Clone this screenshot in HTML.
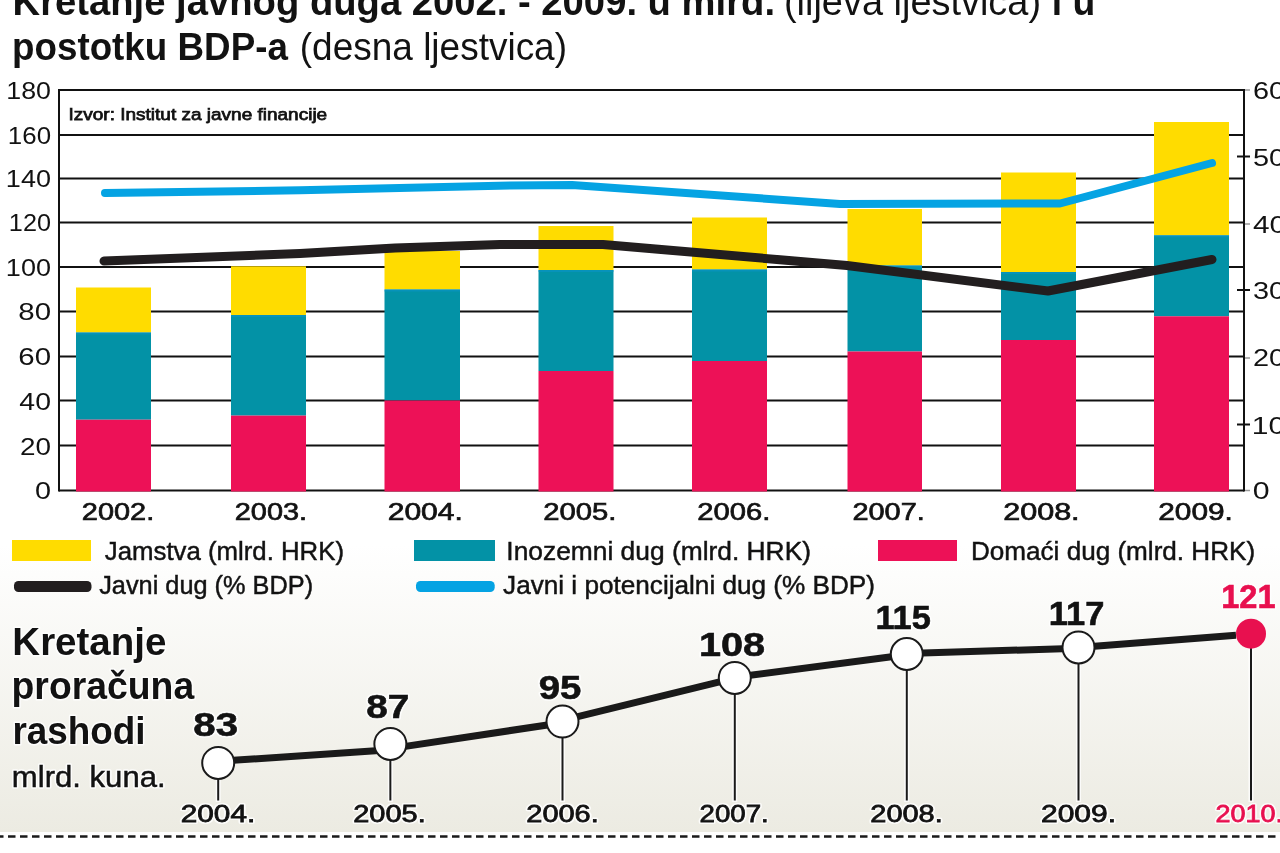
<!DOCTYPE html>
<html><head><meta charset="utf-8">
<style>
html,body{margin:0;padding:0;background:#fff;}
body{width:1280px;height:853px;overflow:hidden;position:relative;font-family:"Liberation Sans",sans-serif;}
svg{position:absolute;left:0;top:0;display:block;will-change:transform;}
text{font-family:"Liberation Sans",sans-serif;}
</style></head><body>
<svg width="1280" height="853" viewBox="0 0 1280 853">
<defs>
<linearGradient id="bg" x1="0" y1="0" x2="0" y2="1">
<stop offset="0" stop-color="#ffffff"/>
<stop offset="1" stop-color="#ecebe2"/>
</linearGradient>
</defs>
<rect x="0" y="545" width="1280" height="287" fill="url(#bg)"/>

<text x="12.58" y="15" font-size="38.5" font-weight="bold" fill="#121212" textLength="762.43" lengthAdjust="spacingAndGlyphs">Kretanje javnog duga 2002. - 2009. u mlrd.</text>
<text x="783.97" y="15" font-size="38.5" fill="#121212" textLength="257.06" lengthAdjust="spacingAndGlyphs">(lijeva ljestvica)</text>
<text x="1051.73" y="15" font-size="38.5" font-weight="bold" fill="#121212" textLength="43.52" lengthAdjust="spacingAndGlyphs">i u</text>
<text x="11.99" y="59.6" font-size="38.5" font-weight="bold" fill="#121212" textLength="275.91" lengthAdjust="spacingAndGlyphs">postotku BDP-a</text>
<text x="299.76" y="59.6" font-size="38.5" fill="#121212" textLength="267.27" lengthAdjust="spacingAndGlyphs">(desna ljestvica)</text>
<g stroke="#111" stroke-width="2">
<line x1="59" y1="90" x2="1244" y2="90"/>
<line x1="59" y1="135" x2="1244" y2="135"/>
<line x1="59" y1="178.5" x2="1244" y2="178.5"/>
<line x1="59" y1="222.5" x2="1244" y2="222.5"/>
<line x1="59" y1="267" x2="1244" y2="267"/>
<line x1="59" y1="311.5" x2="1244" y2="311.5"/>
<line x1="59" y1="356.5" x2="1244" y2="356.5"/>
<line x1="59" y1="400.5" x2="1244" y2="400.5"/>
<line x1="59" y1="445.5" x2="1244" y2="445.5"/>
<line x1="59" y1="490.5" x2="1244" y2="490.5"/>
<line x1="59" y1="89" x2="59" y2="491.5"/>
<line x1="1244" y1="89" x2="1244" y2="491.5"/>
<line x1="1237" y1="156.5" x2="1250" y2="156.5"/>
<line x1="1237" y1="290" x2="1250" y2="290"/>
<line x1="1237" y1="424.5" x2="1250" y2="424.5"/>
</g>
<g stroke="#999" stroke-width="1.5">
<line x1="1245" y1="90" x2="1250" y2="90"/>
<line x1="1245" y1="224" x2="1250" y2="224"/>
<line x1="1245" y1="358" x2="1250" y2="358"/>
<line x1="1245" y1="490.5" x2="1250" y2="490.5"/>
</g>
<rect x="76" y="287.5" width="75" height="45.0" fill="#ffdc00"/>
<rect x="76" y="332.5" width="75" height="87.19999999999999" fill="#0392a6"/>
<rect x="76" y="419.7" width="75" height="71.80000000000001" fill="#ed1157"/>
<rect x="76" y="332.5" width="75" height="2" fill="#0a95c8" opacity="0.6"/>
<rect x="231" y="266.3" width="75" height="48.69999999999999" fill="#ffdc00"/>
<rect x="231" y="315" width="75" height="100.60000000000002" fill="#0392a6"/>
<rect x="231" y="415.6" width="75" height="75.89999999999998" fill="#ed1157"/>
<rect x="231" y="315" width="75" height="2" fill="#0a95c8" opacity="0.6"/>
<rect x="384.5" y="251" width="75.5" height="38.5" fill="#ffdc00"/>
<rect x="384.5" y="289.5" width="75.5" height="111.0" fill="#0392a6"/>
<rect x="384.5" y="400.5" width="75.5" height="91.0" fill="#ed1157"/>
<rect x="384.5" y="289.5" width="75.5" height="2" fill="#0a95c8" opacity="0.6"/>
<rect x="538.5" y="226" width="75" height="44" fill="#ffdc00"/>
<rect x="538.5" y="270" width="75" height="101" fill="#0392a6"/>
<rect x="538.5" y="371" width="75" height="120.5" fill="#ed1157"/>
<rect x="538.5" y="270" width="75" height="2" fill="#0a95c8" opacity="0.6"/>
<rect x="692" y="217.5" width="75" height="52.0" fill="#ffdc00"/>
<rect x="692" y="269.5" width="75" height="91.5" fill="#0392a6"/>
<rect x="692" y="361" width="75" height="130.5" fill="#ed1157"/>
<rect x="692" y="269.5" width="75" height="2" fill="#0a95c8" opacity="0.6"/>
<rect x="847.5" y="209" width="74.5" height="56.5" fill="#ffdc00"/>
<rect x="847.5" y="265.5" width="74.5" height="86.0" fill="#0392a6"/>
<rect x="847.5" y="351.5" width="74.5" height="140.0" fill="#ed1157"/>
<rect x="847.5" y="265.5" width="74.5" height="2" fill="#0a95c8" opacity="0.6"/>
<rect x="1001" y="172.5" width="75" height="99.5" fill="#ffdc00"/>
<rect x="1001" y="272" width="75" height="68" fill="#0392a6"/>
<rect x="1001" y="340" width="75" height="151.5" fill="#ed1157"/>
<rect x="1001" y="272" width="75" height="2" fill="#0a95c8" opacity="0.6"/>
<rect x="1154" y="122" width="75" height="113.30000000000001" fill="#ffdc00"/>
<rect x="1154" y="235.3" width="75" height="81.0" fill="#0392a6"/>
<rect x="1154" y="316.3" width="75" height="175.2" fill="#ed1157"/>
<rect x="1154" y="235.3" width="75" height="2" fill="#0a95c8" opacity="0.6"/>
<polyline fill="none" stroke="#05a3e3" stroke-width="8" stroke-linecap="round" stroke-linejoin="round" points="105,193 300,190.3 510,185.5 572,185 840,204 1060,203.5 1212,163"/>
<polyline fill="none" stroke="#221e1f" stroke-width="9" stroke-linecap="round" stroke-linejoin="round" points="104,261 300,253.5 395,248 500,244.5 603,244.5 847,265.5 1048,291 1212,259.5"/>
<text x="68.48" y="120.2" font-size="16.8" fill="#121212" stroke="#121212" stroke-width="0.75" textLength="258.72" lengthAdjust="spacingAndGlyphs">Izvor: Institut za javne financije</text>
<text x="6.35" y="99" font-size="23.5" fill="#121212" textLength="44.68" lengthAdjust="spacingAndGlyphs">180</text>
<text x="7.86" y="143.5" font-size="23.5" fill="#121212" textLength="43.17" lengthAdjust="spacingAndGlyphs">160</text>
<text x="5.87" y="187" font-size="23.5" fill="#121212" textLength="45.08" lengthAdjust="spacingAndGlyphs">140</text>
<text x="8.86" y="231" font-size="23.5" fill="#121212" textLength="42.09" lengthAdjust="spacingAndGlyphs">120</text>
<text x="5.87" y="275.5" font-size="23.5" fill="#121212" textLength="45.08" lengthAdjust="spacingAndGlyphs">100</text>
<text x="18.31" y="320" font-size="23.5" fill="#121212" textLength="32.73" lengthAdjust="spacingAndGlyphs">80</text>
<text x="18.30" y="365" font-size="23.5" fill="#121212" textLength="32.73" lengthAdjust="spacingAndGlyphs">60</text>
<text x="19.38" y="409.5" font-size="23.5" fill="#121212" textLength="31.60" lengthAdjust="spacingAndGlyphs">40</text>
<text x="20.04" y="454.5" font-size="23.5" fill="#121212" textLength="31.00" lengthAdjust="spacingAndGlyphs">20</text>
<text x="35.12" y="499" font-size="23.5" fill="#121212" textLength="16.04" lengthAdjust="spacingAndGlyphs">0</text>
<text x="1252.93" y="99" font-size="23.5" fill="#121212" textLength="32.14" lengthAdjust="spacingAndGlyphs">60</text>
<text x="1252.93" y="165.5" font-size="23.5" fill="#121212" textLength="32.14" lengthAdjust="spacingAndGlyphs">50</text>
<text x="1252.93" y="232.5" font-size="23.5" fill="#121212" textLength="33.14" lengthAdjust="spacingAndGlyphs">40</text>
<text x="1252.93" y="298.5" font-size="23.5" fill="#121212" textLength="32.14" lengthAdjust="spacingAndGlyphs">30</text>
<text x="1252.93" y="365.5" font-size="23.5" fill="#121212" textLength="32.14" lengthAdjust="spacingAndGlyphs">20</text>
<text x="1251.78" y="433.5" font-size="23.5" fill="#121212" textLength="33.33" lengthAdjust="spacingAndGlyphs">10</text>
<text x="1252.84" y="499" font-size="23.5" fill="#121212" textLength="16.85" lengthAdjust="spacingAndGlyphs">0</text>
<text x="81.84" y="520.3" font-size="24.5" fill="#121212" stroke="#121212" stroke-width="0.7" textLength="72.37" lengthAdjust="spacingAndGlyphs">2002.</text>
<text x="234.76" y="520.3" font-size="24.5" fill="#121212" stroke="#121212" stroke-width="0.7" textLength="72.32" lengthAdjust="spacingAndGlyphs">2003.</text>
<text x="387.68" y="520.3" font-size="24.5" fill="#121212" stroke="#121212" stroke-width="0.7" textLength="75.22" lengthAdjust="spacingAndGlyphs">2004.</text>
<text x="543.16" y="520.3" font-size="24.5" fill="#121212" stroke="#121212" stroke-width="0.7" textLength="73.16" lengthAdjust="spacingAndGlyphs">2005.</text>
<text x="697.34" y="520.3" font-size="24.5" fill="#121212" stroke="#121212" stroke-width="0.7" textLength="73.05" lengthAdjust="spacingAndGlyphs">2006.</text>
<text x="852.45" y="520.3" font-size="24.5" fill="#121212" stroke="#121212" stroke-width="0.7" textLength="72.34" lengthAdjust="spacingAndGlyphs">2007.</text>
<text x="1003.16" y="520.3" font-size="24.5" fill="#121212" stroke="#121212" stroke-width="0.7" textLength="76.46" lengthAdjust="spacingAndGlyphs">2008.</text>
<text x="1158.25" y="520.3" font-size="24.5" fill="#121212" stroke="#121212" stroke-width="0.7" textLength="74.55" lengthAdjust="spacingAndGlyphs">2009.</text>
<rect x="12" y="540" width="79" height="21" fill="#ffdc00"/>
<rect x="414" y="540" width="81" height="21" fill="#0392a6"/>
<rect x="878" y="540" width="79" height="21" fill="#ed1157"/>
<rect x="14" y="581" width="77.5" height="11" rx="4.5" fill="#221e1f"/>
<rect x="416" y="581" width="78.7" height="11" rx="4.5" fill="#05a3e3"/>
<text x="104.79" y="559.6" font-size="25.2" fill="#121212" stroke="#121212" stroke-width="0.45" textLength="239.21" lengthAdjust="spacingAndGlyphs">Jamstva (mlrd. HRK)</text>
<text x="506.37" y="559.6" font-size="25.2" fill="#121212" stroke="#121212" stroke-width="0.45" textLength="304.64" lengthAdjust="spacingAndGlyphs">Inozemni dug (mlrd. HRK)</text>
<text x="970.98" y="559.6" font-size="25.2" fill="#121212" stroke="#121212" stroke-width="0.45" textLength="284.15" lengthAdjust="spacingAndGlyphs">Domaći dug (mlrd. HRK)</text>
<text x="99.19" y="594" font-size="25.2" fill="#121212" stroke="#121212" stroke-width="0.45" textLength="213.92" lengthAdjust="spacingAndGlyphs">Javni dug (% BDP)</text>
<text x="503.10" y="594" font-size="25.2" fill="#121212" stroke="#121212" stroke-width="0.45" textLength="371.91" lengthAdjust="spacingAndGlyphs">Javni i potencijalni dug (% BDP)</text>
<text x="12.33" y="654.6" font-size="38.5" font-weight="bold" fill="#fff" stroke="#fff" stroke-width="3" stroke-linejoin="round" opacity="0.85" textLength="154.10" lengthAdjust="spacingAndGlyphs">Kretanje</text><text x="12.33" y="654.6" font-size="38.5" font-weight="bold" fill="#121212" textLength="154.10" lengthAdjust="spacingAndGlyphs">Kretanje</text>
<text x="11.56" y="699" font-size="38.5" font-weight="bold" fill="#fff" stroke="#fff" stroke-width="3" stroke-linejoin="round" opacity="0.85" textLength="182.63" lengthAdjust="spacingAndGlyphs">proračuna</text><text x="11.56" y="699" font-size="38.5" font-weight="bold" fill="#121212" textLength="182.63" lengthAdjust="spacingAndGlyphs">proračuna</text>
<text x="12.40" y="744" font-size="38.5" font-weight="bold" fill="#fff" stroke="#fff" stroke-width="3" stroke-linejoin="round" opacity="0.85" textLength="133.21" lengthAdjust="spacingAndGlyphs">rashodi</text><text x="12.40" y="744" font-size="38.5" font-weight="bold" fill="#121212" textLength="133.21" lengthAdjust="spacingAndGlyphs">rashodi</text>
<text x="11.85" y="786.6" font-size="30" fill="#fff" stroke="#fff" stroke-width="3.5" stroke-linejoin="round" opacity="0.85" textLength="153.80" lengthAdjust="spacingAndGlyphs">mlrd. kuna.</text><text x="11.85" y="786.6" font-size="30" fill="#121212" stroke="#121212" stroke-width="0.5" textLength="153.80" lengthAdjust="spacingAndGlyphs">mlrd. kuna.</text>
<g stroke="#fff" stroke-width="5" opacity="0.8">
<line x1="218.2" y1="762.9" x2="218.2" y2="802"/>
<line x1="390.35" y1="743.9" x2="390.35" y2="802"/>
<line x1="562.5" y1="721.6" x2="562.5" y2="802"/>
<line x1="734.8" y1="677.9" x2="734.8" y2="802"/>
<line x1="906.8" y1="654" x2="906.8" y2="802"/>
<line x1="1078.5" y1="647.4" x2="1078.5" y2="802"/>
<line x1="1251" y1="633.7" x2="1251" y2="802"/>
</g>
<g stroke="#1a1a1a" stroke-width="2">
<line x1="218.2" y1="762.9" x2="218.2" y2="800.5"/>
<line x1="390.35" y1="743.9" x2="390.35" y2="800.5"/>
<line x1="562.5" y1="721.6" x2="562.5" y2="800.5"/>
<line x1="734.8" y1="677.9" x2="734.8" y2="800.5"/>
<line x1="906.8" y1="654" x2="906.8" y2="800.5"/>
<line x1="1078.5" y1="647.4" x2="1078.5" y2="800.5"/>
<line x1="1251" y1="633.7" x2="1251" y2="800.5"/>
</g>
<g stroke="#1a1a1a" stroke-width="7">
<line x1="218.2" y1="761.3" x2="390.35" y2="749.8"/>
<line x1="390.35" y1="748.6" x2="562.5" y2="722.7"/>
<line x1="562.5" y1="720.3" x2="734.8" y2="678.2"/>
<line x1="734.8" y1="677.3" x2="906.8" y2="654.8"/>
<line x1="906.8" y1="653.4" x2="1078.3" y2="648.3"/>
<line x1="1078.3" y1="647.5" x2="1236" y2="635.3"/>
</g>
<g fill="#fff" stroke="#1a1a1a" stroke-width="2">
<circle cx="218.2" cy="762.9" r="16"/>
<circle cx="390.35" cy="743.9" r="16"/>
<circle cx="562.5" cy="721.6" r="16"/>
<circle cx="734.8" cy="677.9" r="16"/>
<circle cx="906.8" cy="654" r="16"/>
<circle cx="1078.5" cy="647.4" r="16"/>
</g>
<circle cx="1251" cy="633.7" r="15" fill="#e8104f"/>
<text x="193.25" y="736" font-size="34" font-weight="bold" fill="#fff" stroke="#fff" stroke-width="3.6" stroke-linejoin="round" opacity="0.85" textLength="44.79" lengthAdjust="spacingAndGlyphs">83</text><text x="193.25" y="736" font-size="34" font-weight="bold" fill="#121212" stroke="#121212" stroke-width="0.6" textLength="44.79" lengthAdjust="spacingAndGlyphs">83</text>
<text x="366.34" y="718.4" font-size="34" font-weight="bold" fill="#fff" stroke="#fff" stroke-width="3.6" stroke-linejoin="round" opacity="0.85" textLength="43.10" lengthAdjust="spacingAndGlyphs">87</text><text x="366.34" y="718.4" font-size="34" font-weight="bold" fill="#121212" stroke="#121212" stroke-width="0.6" textLength="43.10" lengthAdjust="spacingAndGlyphs">87</text>
<text x="538.77" y="699" font-size="34" font-weight="bold" fill="#fff" stroke="#fff" stroke-width="3.6" stroke-linejoin="round" opacity="0.85" textLength="42.66" lengthAdjust="spacingAndGlyphs">95</text><text x="538.77" y="699" font-size="34" font-weight="bold" fill="#121212" stroke="#121212" stroke-width="0.6" textLength="42.66" lengthAdjust="spacingAndGlyphs">95</text>
<text x="698.90" y="656.2" font-size="34" font-weight="bold" fill="#fff" stroke="#fff" stroke-width="3.6" stroke-linejoin="round" opacity="0.85" textLength="66.15" lengthAdjust="spacingAndGlyphs">108</text><text x="698.90" y="656.2" font-size="34" font-weight="bold" fill="#121212" stroke="#121212" stroke-width="0.6" textLength="66.15" lengthAdjust="spacingAndGlyphs">108</text>
<text x="875.41" y="629.4" font-size="34" font-weight="bold" fill="#fff" stroke="#fff" stroke-width="3.6" stroke-linejoin="round" opacity="0.85" textLength="55.44" lengthAdjust="spacingAndGlyphs">115</text><text x="875.41" y="629.4" font-size="34" font-weight="bold" fill="#121212" stroke="#121212" stroke-width="0.6" textLength="55.44" lengthAdjust="spacingAndGlyphs">115</text>
<text x="1048.79" y="625.3" font-size="34" font-weight="bold" fill="#fff" stroke="#fff" stroke-width="3.6" stroke-linejoin="round" opacity="0.85" textLength="55.58" lengthAdjust="spacingAndGlyphs">117</text><text x="1048.79" y="625.3" font-size="34" font-weight="bold" fill="#121212" stroke="#121212" stroke-width="0.6" textLength="55.58" lengthAdjust="spacingAndGlyphs">117</text>
<text x="1221.18" y="607.8" font-size="34" font-weight="bold" fill="#fff" stroke="#fff" stroke-width="3.6" stroke-linejoin="round" opacity="0.85" textLength="54.39" lengthAdjust="spacingAndGlyphs">121</text><text x="1221.18" y="607.8" font-size="34" font-weight="bold" fill="#e8104f" stroke="#e8104f" stroke-width="0.6" textLength="54.39" lengthAdjust="spacingAndGlyphs">121</text>
<text x="180.77" y="821.8" font-size="24.5" fill="#fff" stroke="#fff" stroke-width="3.8" stroke-linejoin="round" opacity="0.85" textLength="74.44" lengthAdjust="spacingAndGlyphs">2004.</text><text x="180.77" y="821.8" font-size="24.5" fill="#121212" stroke="#121212" stroke-width="0.8" textLength="74.44" lengthAdjust="spacingAndGlyphs">2004.</text>
<text x="353.25" y="821.8" font-size="24.5" fill="#fff" stroke="#fff" stroke-width="3.8" stroke-linejoin="round" opacity="0.85" textLength="72.47" lengthAdjust="spacingAndGlyphs">2005.</text><text x="353.25" y="821.8" font-size="24.5" fill="#121212" stroke="#121212" stroke-width="0.8" textLength="72.47" lengthAdjust="spacingAndGlyphs">2005.</text>
<text x="526.34" y="821.8" font-size="24.5" fill="#fff" stroke="#fff" stroke-width="3.8" stroke-linejoin="round" opacity="0.85" textLength="72.42" lengthAdjust="spacingAndGlyphs">2006.</text><text x="526.34" y="821.8" font-size="24.5" fill="#121212" stroke="#121212" stroke-width="0.8" textLength="72.42" lengthAdjust="spacingAndGlyphs">2006.</text>
<text x="699.55" y="821.8" font-size="24.5" fill="#fff" stroke="#fff" stroke-width="3.8" stroke-linejoin="round" opacity="0.85" textLength="69.14" lengthAdjust="spacingAndGlyphs">2007.</text><text x="699.55" y="821.8" font-size="24.5" fill="#121212" stroke="#121212" stroke-width="0.8" textLength="69.14" lengthAdjust="spacingAndGlyphs">2007.</text>
<text x="870.34" y="821.8" font-size="24.5" fill="#fff" stroke="#fff" stroke-width="3.8" stroke-linejoin="round" opacity="0.85" textLength="72.42" lengthAdjust="spacingAndGlyphs">2008.</text><text x="870.34" y="821.8" font-size="24.5" fill="#121212" stroke="#121212" stroke-width="0.8" textLength="72.42" lengthAdjust="spacingAndGlyphs">2008.</text>
<text x="1041.03" y="821.8" font-size="24.5" fill="#fff" stroke="#fff" stroke-width="3.8" stroke-linejoin="round" opacity="0.85" textLength="75.05" lengthAdjust="spacingAndGlyphs">2009.</text><text x="1041.03" y="821.8" font-size="24.5" fill="#121212" stroke="#121212" stroke-width="0.8" textLength="75.05" lengthAdjust="spacingAndGlyphs">2009.</text>
<text x="1215.44" y="821.8" font-size="24.5" fill="#fff" stroke="#fff" stroke-width="3.8" stroke-linejoin="round" opacity="0.85" textLength="67.47" lengthAdjust="spacingAndGlyphs">2010.</text><text x="1215.44" y="821.8" font-size="24.5" fill="#e8104f" stroke="#e8104f" stroke-width="0.8" textLength="67.47" lengthAdjust="spacingAndGlyphs">2010.</text>
<line x1="0" y1="836.5" x2="1280" y2="836.5" stroke="#1a1a1a" stroke-width="2.5" stroke-dasharray="7.5 4.5" stroke-dashoffset="4"/>
</svg>
</body></html>
